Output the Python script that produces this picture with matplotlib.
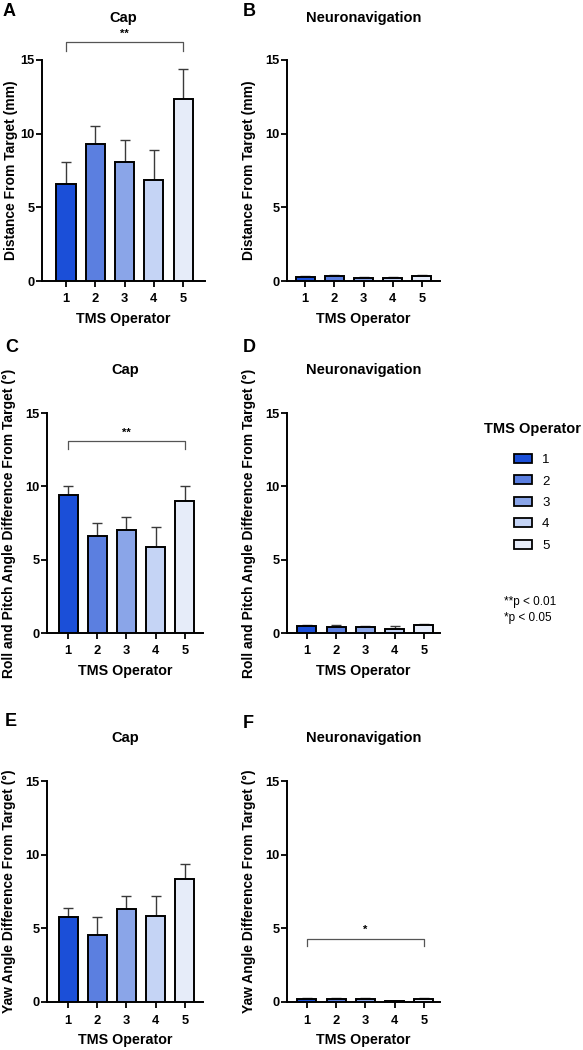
import matplotlib
matplotlib.use("Agg")
import matplotlib.pyplot as plt
from matplotlib.patches import Patch
import numpy as np

plt.rcParams['font.family'] = ['Liberation Sans', 'DejaVu Sans']

operators = ["1", "2", "3", "4", "5"]
colors = ["#1b4fd8", "#5b7fe0", "#8aa5e8", "#c5d4f5", "#e6ecf9"]

# means and upper error sizes
cap_dist = [6.56, 9.3, 8.05, 6.85, 12.38]
cap_dist_err = [1.54, 1.2, 1.52, 2.05, 1.99]
nav_dist = [0.27, 0.32, 0.23, 0.18, 0.36]
nav_dist_err = [0.09, 0.06, 0.06, 0.09, 0.07]
cap_rp = [9.38, 6.6, 7.0, 5.87, 9.0]
cap_rp_err = [0.66, 0.88, 0.9, 1.36, 1.04]
nav_rp = [0.45, 0.41, 0.38, 0.25, 0.52]
nav_rp_err = [0.12, 0.13, 0.12, 0.2, 0.11]
cap_yaw = [5.78, 4.58, 6.28, 5.85, 8.36]
cap_yaw_err = [0.63, 1.2, 0.92, 1.33, 1.0]
nav_yaw = [0.23, 0.2, 0.2, 0.05, 0.22]
nav_yaw_err = [0.04, 0.05, 0.04, 0.04, 0.06]

W, H = 583, 1050
fig = plt.figure(figsize=(W / 100, H / 100), dpi=100)


def axes_px(x0, x1, ytop, ybot):
    return fig.add_axes([x0 / W, 1 - ybot / H, (x1 - x0) / W, (ybot - ytop) / H])


panels = [
    # label, title, ylabel, means, errs, rect, xlim, bracket, title_y, label_xy, ylabel_right_px
    ("A", "Cap", "Distance From Target (mm)", cap_dist, cap_dist_err,
     (42, 205, 60, 281), (0.18, 5.75), (16.2, 0.6, "**"), 18, (3, 12), 18),
    ("B", "Neuronavigation", "Distance From Target (mm)", nav_dist, nav_dist_err,
     (287, 440, 60, 281), (0.38, 5.62), None, 18, (243, 11), 256),
    ("C", "Cap", "Roll and Pitch Angle Difference From Target (°)", cap_rp, cap_rp_err,
     (47, 203, 413, 633), (0.28, 5.62), (13.07, 0.5, "**"), 370, (5, 348), 16),
    ("D", "Neuronavigation", "Roll and Pitch Angle Difference From Target (°)", nav_rp, nav_rp_err,
     (287, 440, 413, 633), (0.32, 5.55), None, 370, (243, 348), 256),
    ("E", "Cap", "Yaw Angle Difference From Target (°)", cap_yaw, cap_yaw_err,
     (47, 203, 781, 1002), (0.28, 5.62), None, 738, (5, 722), 16),
    ("F", "Neuronavigation", "Yaw Angle Difference From Target (°)", nav_yaw, nav_yaw_err,
     (287, 440, 781, 1002), (0.32, 5.55), (4.29, 0.52, "*"), 738, (243, 723), 256),
]

x = np.arange(1, 6)
for (label, title, ylabel, means, errs, rect, xlim, bracket, ty,
     (lx, ly), ylr) in panels:
    ax = axes_px(*rect)
    ax.errorbar(x, means, yerr=[np.zeros(5), errs], fmt='none', ecolor='#3a3a3a',
                elinewidth=1.0, capsize=3.6, capthick=1.0, zorder=2)
    ax.bar(x, means, width=0.65, color=colors, edgecolor='black', linewidth=1.4, zorder=3)
    ax.set_xlim(*xlim)
    ax.set_ylim(0, 15)
    ax.set_yticks([0, 5, 10, 15])
    ax.set_xticks(x)
    ax.set_xticklabels(operators)
    for s in ['top', 'right']:
        ax.spines[s].set_visible(False)
    for s in ['left', 'bottom']:
        ax.spines[s].set_linewidth(1.4)
    ax.tick_params(axis='x', length=4.5, width=1.3, labelsize=9.3, pad=4.5)
    ax.tick_params(axis='y', length=4, width=1.3, labelsize=9.3, pad=1.5)
    for t in ax.get_xticklabels() + ax.get_yticklabels():
        t.set_fontweight('bold')
    ax.set_xlabel("TMS Operator", fontsize=10.3, fontweight='bold', labelpad=5)
    ax.set_ylabel(ylabel, fontsize=10, fontweight='bold')
    rx0, rx1 = rect[0], rect[1]
    ax.yaxis.set_label_coords((ylr - rx0) / (rx1 - rx0), 0.5)
    fig.text(((rx0 + rx1) / 2) / W, 1 - ty / H, title, ha='center', va='center',
             fontsize=10.5, fontweight='bold')
    fig.text(lx / W, 1 - ly / H, label, ha='left', va='center',
             fontsize=13, fontweight='bold')
    if bracket is not None:
        by, drop, txt = bracket
        ax.plot([1, 1, 5, 5], [by - drop, by, by, by - drop], color='#555555',
                lw=0.9, clip_on=False, zorder=4)
        ax.text(3, by + 0.25, txt, ha='center', va='bottom', fontsize=8,
                fontweight='bold', clip_on=False)

fig.text(532 / W, 1 - 429 / H, "TMS Operator", ha='center', va='center',
         fontsize=10.5, fontweight='bold')
handles = [Patch(facecolor=c, edgecolor='black', linewidth=1.3) for c in colors]
leg = fig.legend(handles, operators, loc='upper center',
                 bbox_to_anchor=(532 / W, 1 - 454 / H), frameon=False,
                 fontsize=9.5, handlelength=1.36, handleheight=0.68,
                 labelspacing=0.7, handletextpad=0.75, borderpad=0,
                 borderaxespad=0)

fig.text(504 / W, 1 - 602 / H, "**p < 0.01", ha='left', va='center', fontsize=8.5)
fig.text(504 / W, 1 - 618 / H, "*p < 0.05", ha='left', va='center', fontsize=8.5)

fig.savefig("out.png", dpi=100)
